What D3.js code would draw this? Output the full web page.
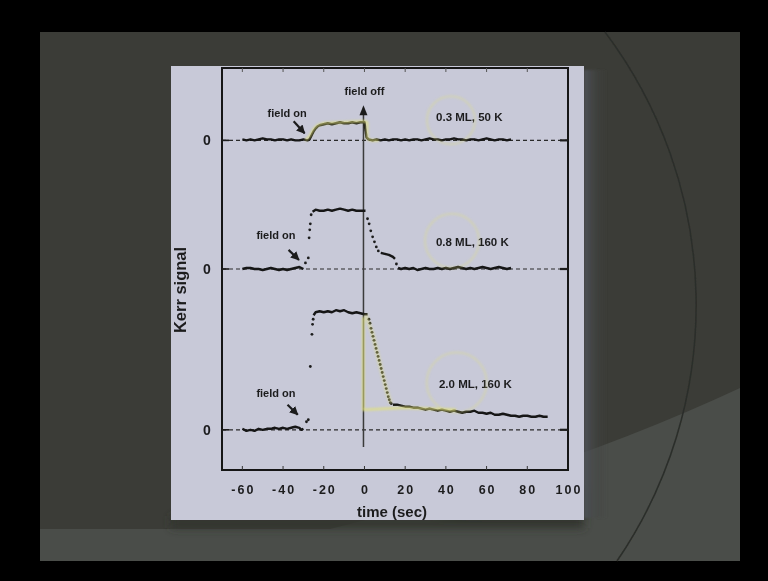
<!DOCTYPE html>
<html>
<head>
<meta charset="utf-8">
<script src="https://cdn.jsdelivr.net/npm/d3@7"></script>
<style>
  body { margin: 0; background: #000; }
  text { font-family: "Liberation Sans", Arial, sans-serif; font-weight: bold; fill: #1c1c1e; }
</style>
</head>
<body>
<div id="chart"></div>
<script>
// Kerr signal vs time, three coverages, photographed off a slide

var width = 768, height = 581;

// axis ticks and labels
var xTicks = [-60, -40, -20, 0, 20, 40, 60, 80, 100];
var tickMarks = [-60, -40, -20, 0, 20, 40, 60, 80];
var traceNames = ["0.3 ML, 50 K", "0.8 ML, 160 K", "2.0 ML, 160 K"];
var baselines = [2.88, 1.6, 0]; // zero level of each trace
var namePos = [[51.5, 3.11], [53, 1.87], [54.5, 0.46]];

// 0.3 ML, 50 K (relative to its baseline)
var line03 = [[-60,0.01],[-58,0.00],[-56,0.01],[-54,0.00],[-52,0.01],[-50,0.02],[-48,0.01],[-46,0.01],[-44,0.00],[-42,0.01],
  [-40,0.01],[-38,0.00],[-36,0.01],[-34,0.00],[-32,0.00],[-30,0.01],[-28,0.00],[-27,0.01],[-26,0.05],[-25,0.09],[-24,0.12],
  [-23,0.14],[-22,0.15],[-20,0.16],[-18,0.17],[-16,0.16],[-14,0.17],[-12,0.18],[-10,0.17],[-8,0.17],[-6,0.18],[-4,0.17],
  [-2,0.18],[0,0.18],[0.5,0.10],[1,0.03],[2,0.01],[4,0.00],[6,0.01],[8,0.00],[10,0.01],[12,0.00],[14,0.01],[16,0.01],
  [18,0.00],[20,0.01],[22,0.00],[24,0.01],[26,0.01],[28,0.00],[30,0.01],[32,0.02],[34,0.01],[36,0.01],[38,0.00],[40,0.01],
  [42,0.01],[44,0.02],[46,0.01],[48,0.01],[50,0.00],[52,0.01],[54,0.01],[56,0.00],[58,0.01],[60,0.02],[62,0.01],[64,0.00],
  [66,0.01],[68,0.01],[70,0.00],[72,0.01]];

// 0.8 ML, 160 K
var lines08 = [
  [[-60,0.00],[-58,0.01],[-56,0.01],[-54,0.00],[-52,0.00],[-50,-0.01],[-48,0.00],[-46,0.01],[-44,0.00],[-42,-0.01],
   [-40,0.00],[-38,-0.01],[-36,0.00],[-34,0.01],[-32,0.02],[-31,0.01],[-30,0.00]],
  [[-25.5,0.57],[-24,0.59],[-22,0.58],[-20,0.58],[-18,0.59],[-16,0.58],[-14,0.59],[-12,0.60],[-10,0.59],[-8,0.58],
   [-6,0.59],[-4,0.58],[-2,0.58],[0.5,0.58]],
  [[8,0.16],[10,0.15],[12,0.14],[14,0.12],[15,0.10]],
  [[16.5,0.01],[18,0.00],[20,0.01],[22,0.00],[24,0.01],[26,-0.01],[28,0.00],[30,0.01],[32,0.00],[34,0.00],[36,0.01],
   [38,0.00],[40,0.01],[42,0.00],[44,0.01],[46,0.02],[48,0.01],[50,0.00],[52,0.01],[54,0.00],[56,0.01],[58,0.02],
   [60,0.01],[62,0.00],[64,0.01],[66,0.02],[68,0.01],[70,0.00],[72,0.01]]
];
var dots08 = [[-29,0.06],[-27.6,0.11],[-27.2,0.31],[-26.9,0.39],[-26.6,0.45],[-26.2,0.54],
  [1.5,0.50],[2.3,0.45],[3.1,0.38],[4,0.32],[4.9,0.27],[5.8,0.22],[6.8,0.18],[15.7,0.05]];

// 2.0 ML, 160 K
var lines20 = [
  [[-60,0.01],[-58,-0.01],[-56,0.00],[-54,-0.01],[-52,0.01],[-50,0.00],[-48,0.01],[-46,0.01],[-44,0.02],[-42,0.01],
   [-40,0.02],[-38,0.01],[-36,0.02],[-34,0.03],[-32,0.02],[-31,0.00],[-30,0.01]],
  [[-25,1.14],[-24,1.17],[-22,1.18],[-20,1.17],[-18,1.18],[-16,1.17],[-14,1.19],[-12,1.18],[-10,1.19],[-8,1.17],
   [-6,1.16],[-4,1.17],[-2,1.16],[0,1.15],[1.5,1.15]],
  [[14,0.25],[16,0.25],[18,0.24],[20,0.23],[22,0.23],[24,0.22],[26,0.22],[28,0.21],[30,0.20],[32,0.21],[34,0.20],
   [36,0.19],[38,0.20],[40,0.19],[42,0.18],[44,0.19],[46,0.18],[48,0.17],[50,0.18],[52,0.18],[54,0.19],[56,0.17],
   [58,0.17],[60,0.16],[62,0.17],[64,0.15],[66,0.15],[68,0.16],[70,0.15],[72,0.14],[74,0.14],[76,0.13],[78,0.14],
   [80,0.14],[82,0.13],[84,0.13],[86,0.14],[88,0.13],[90,0.13]]
];
var dots20 = [[-28.5,0.08],[-27.6,0.10],[-26.6,0.63],[-25.8,0.95],[-25.5,1.05],[-25.2,1.10],
  [2.2,1.10],[2.7,1.06],[3.2,1.01],[3.7,0.97],[4.2,0.93],[4.7,0.89],[5.2,0.85],[5.7,0.81],[6.2,0.77],[6.7,0.73],
  [7.2,0.69],[7.7,0.65],[8.2,0.61],[8.7,0.57],[9.2,0.53],[9.7,0.49],[10.2,0.45],[10.7,0.41],[11.2,0.37],[11.7,0.33],
  [12.2,0.30],[12.7,0.27],[13.2,0.26]];

// hand drawn yellow marks on the slide
var yellow03 = [[-29,2.88],[-27,2.92],[-25,2.99],[-23,3.03],[-20,3.05],[-10,3.06],[0,3.07],[1.3,3.06],[1.3,2.90],[3,2.88],[7,2.88]];
var yellow20 = [[-0.6,1.12],[-0.6,0.20],[20,0.22],[45,0.20]];
var yellow20Drop = [[0.5,1.15],[4,0.95],[8,0.62],[11,0.38],[13,0.26]];
var yellowRings = [[42.5, 3.08, 24], [43, 1.88, 27], [45.3, 0.47, 30]];

// "field on" notes and arrows
var fieldOnText = [[-38, 3.15], [-43.5, 1.94], [-43.5, 0.37]];
var fieldOnArrows = [[[-34.8,3.07],[-29.4,2.95]], [[-37.3,1.79],[-32.2,1.69]], [[-37.8,0.25],[-32.8,0.15]]];

var svg = d3.select("#chart").append("svg")
    .attr("width", width).attr("height", height);

var defs = svg.append("defs");
defs.append("filter").attr("id", "soft")
    .append("feGaussianBlur").attr("stdDeviation", 0.5);
defs.append("filter").attr("id", "softer")
    .append("feGaussianBlur").attr("stdDeviation", 1.2);
defs.append("filter").attr("id", "wide")
    .attr("x", "-50%").attr("y", "-50%").attr("width", "200%").attr("height", "200%")
    .append("feGaussianBlur").attr("stdDeviation", 4);
defs.append("marker").attr("id", "head")
    .attr("viewBox", "0 0 10 10").attr("refX", 9).attr("refY", 5)
    .attr("markerWidth", 4).attr("markerHeight", 4).attr("orient", "auto")
    .append("path").attr("d", "M0,0 L10,5 L0,10 Z").attr("fill", "#1c1c1e");
var grad = defs.append("linearGradient").attr("id", "shade");
grad.append("stop").attr("offset", "0%").attr("stop-color", "#50535a").attr("stop-opacity", 0.9);
grad.append("stop").attr("offset", "100%").attr("stop-color", "#3a3c37").attr("stop-opacity", 0);

// slide background
svg.append("rect").attr("x", 40).attr("y", 32).attr("width", 700).attr("height", 529).attr("fill", "#3b3c37");
svg.append("path")
    .attr("d", "M40,529 L330,529 Q560,472 740,388 L740,561 L40,561 Z")
    .attr("fill", "#4a4d49");
svg.append("path")
    .attr("d", "M171,516 L430,516 Q520,510 584,486 L584,528 L171,528 Z")
    .attr("fill", "#33352f").attr("filter", "url(#wide)");
svg.append("path")
    .attr("d", "M605,32 A454,454 0 0 1 617,561")
    .attr("fill", "none").attr("stroke", "#2c2e2a").attr("stroke-width", 1.6).attr("filter", "url(#soft)");
svg.append("rect").attr("x", 584).attr("y", 70).attr("width", 24).attr("height", 448)
    .attr("fill", "url(#shade)").attr("filter", "url(#softer)");

// light panel holding the figure
svg.append("rect").attr("x", 171).attr("y", 66).attr("width", 413).attr("height", 454).attr("fill", "#c8c9d8");

var x = d3.scaleLinear().domain([-70, 100]).range([222, 568]);
var y = d3.scaleLinear().domain([-0.4, 3.6]).range([470, 68]);

var g = svg.append("g").attr("filter", "url(#soft)");

// frame
g.append("rect").attr("x", x(-70)).attr("y", y(3.6)).attr("width", x(100) - x(-70)).attr("height", y(-0.4) - y(3.6))
    .attr("fill", "none").attr("stroke", "#151515").attr("stroke-width", 2);

// inward ticks top and bottom
g.selectAll("line.tb").data(tickMarks).enter().append("line").attr("class", "tb")
    .attr("x1", d => x(d)).attr("x2", d => x(d)).attr("y1", y(-0.4)).attr("y2", y(-0.4) - 4)
    .attr("stroke", "#333").attr("stroke-width", 1);
g.selectAll("line.tt").data(tickMarks).enter().append("line").attr("class", "tt")
    .attr("x1", d => x(d)).attr("x2", d => x(d)).attr("y1", y(3.6)).attr("y2", y(3.6) + 4)
    .attr("stroke", "#555").attr("stroke-width", 1);

// x tick labels
g.selectAll("text.xt").data(xTicks).enter().append("text").attr("class", "xt")
    .attr("x", d => x(d) + 1).attr("y", 494)
    .attr("text-anchor", "middle").style("font-size", "12.5px").style("letter-spacing", "2px")
    .text(d => d);

g.append("text").attr("x", 392).attr("y", 517).attr("text-anchor", "middle")
    .style("font-size", "15px").text("time (sec)");

g.append("text").attr("transform", "translate(186,290) rotate(-90)").attr("text-anchor", "middle")
    .style("font-size", "16.5px").text("Kerr signal");

// zero lines, dashed, with ticks at both ends
g.selectAll("line.zero").data(baselines).enter().append("line").attr("class", "zero")
    .attr("x1", x(-70)).attr("x2", x(100)).attr("y1", d => y(d)).attr("y2", d => y(d))
    .attr("stroke", "#2a2a2a").attr("stroke-width", 1.2).attr("stroke-dasharray", "4,3");
g.selectAll("line.zl").data(baselines).enter().append("line").attr("class", "zl")
    .attr("x1", x(-70)).attr("x2", x(-70) + 7).attr("y1", d => y(d)).attr("y2", d => y(d))
    .attr("stroke", "#1a1a1a").attr("stroke-width", 1.6);
g.selectAll("line.zr").data(baselines).enter().append("line").attr("class", "zr")
    .attr("x1", x(100) - 8).attr("x2", x(100)).attr("y1", d => y(d)).attr("y2", d => y(d))
    .attr("stroke", "#1a1a1a").attr("stroke-width", 2.2);
g.selectAll("text.zero").data(baselines).enter().append("text").attr("class", "zero")
    .attr("x", 207).attr("y", d => y(d) + 5).attr("text-anchor", "middle")
    .style("font-size", "14px").text("0");

// yellow marker strokes
var line = d3.line().x(d => x(d[0])).y(d => y(d[1]));
var yel = svg.append("g").attr("filter", "url(#softer)").attr("fill", "none").attr("stroke", "#e2e27a");
yel.append("path").attr("d", line(yellow03)).attr("stroke-width", 2.5).attr("opacity", 0.7);
yel.append("path").attr("d", line(yellow20)).attr("stroke-width", 2.5).attr("opacity", 0.8);
yel.append("path").attr("d", line(yellow20Drop)).attr("stroke-width", 4).attr("opacity", 0.4);
yel.selectAll("circle").data(yellowRings).enter().append("circle")
    .attr("cx", d => x(d[0])).attr("cy", d => y(d[1])).attr("r", d => d[2])
    .attr("stroke-width", 2).attr("opacity", 0.35);

// vertical line at field off
g.append("line").attr("x1", x(0) - 1).attr("x2", x(0) - 1).attr("y1", y(3.2)).attr("y2", y(-0.17))
    .attr("stroke", "#3a3a3a").attr("stroke-width", 1.5);
g.append("path")
    .attr("d", "M" + (x(0) - 1) + "," + y(3.23) + " l-4,10 l8,0 Z")
    .attr("fill", "#1c1c1e");
g.append("text").attr("x", x(0)).attr("y", y(3.37) + 4).attr("text-anchor", "middle")
    .style("font-size", "11px").text("field off");

// traces
var traces = g.append("g").attr("fill", "none").attr("stroke", "#141414")
    .attr("stroke-width", 2.4).attr("stroke-linejoin", "round");
traces.append("path").attr("d", line(line03.map(d => [d[0], d[1] + baselines[0]])));
lines08.forEach(function(seg) {
    traces.append("path").attr("d", line(seg.map(d => [d[0], d[1] + baselines[1]])));
});
lines20.forEach(function(seg) {
    traces.append("path").attr("d", line(seg.map(d => [d[0], d[1] + baselines[2]])));
});
g.selectAll("circle.d08").data(dots08).enter().append("circle").attr("class", "d08")
    .attr("cx", d => x(d[0])).attr("cy", d => y(d[1] + baselines[1])).attr("r", 1.4).attr("fill", "#1c1c1c");
g.selectAll("circle.d20").data(dots20).enter().append("circle").attr("class", "d20")
    .attr("cx", d => x(d[0])).attr("cy", d => y(d[1] + baselines[2])).attr("r", 1.4).attr("fill", "#1c1c1c");

// trace names
g.selectAll("text.name").data(traceNames).enter().append("text").attr("class", "name")
    .attr("x", (d, i) => x(namePos[i][0])).attr("y", (d, i) => y(namePos[i][1]) + 4)
    .attr("text-anchor", "middle").style("font-size", "11.5px").text(d => d);

// field on notes
g.selectAll("text.on").data(fieldOnText).enter().append("text").attr("class", "on")
    .attr("x", d => x(d[0])).attr("y", d => y(d[1]) + 4)
    .attr("text-anchor", "middle").style("font-size", "11px").text("field on");
g.selectAll("line.on").data(fieldOnArrows).enter().append("line").attr("class", "on")
    .attr("x1", d => x(d[0][0])).attr("y1", d => y(d[0][1]))
    .attr("x2", d => x(d[1][0])).attr("y2", d => y(d[1][1]))
    .attr("stroke", "#1c1c1e").attr("stroke-width", 2.2).attr("marker-end", "url(#head)");
</script>
</body>
</html>
